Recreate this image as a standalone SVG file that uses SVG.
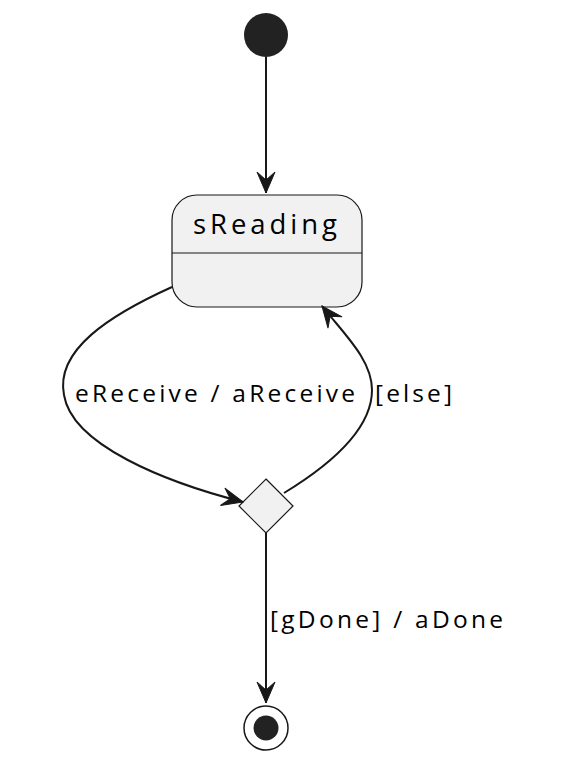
<svg xmlns="http://www.w3.org/2000/svg" width="561" height="780" viewBox="0 0 561 780">
<style>
.txt{font-family:"Open Sans","Noto Sans","Liberation Sans",sans-serif;fill:#000}
.lbl{font-size:24.5px}
.edge{fill:none;stroke:#181818;stroke-width:2}
.node{fill:#F1F1F1;stroke:#181818;stroke-width:1.2}
</style>
<defs>
<marker id="arr" markerUnits="userSpaceOnUse" markerWidth="26" markerHeight="22" viewBox="-22 -11 23 22" refX="0" refY="0" orient="auto">
<path d="M0,0 L-21,-9 L-13,0 L-21,9 Z" fill="#181818" stroke="#181818" stroke-width="1"/>
</marker>
</defs>
<rect width="561" height="780" fill="#fff"/>
<g id="start">
<circle cx="266" cy="35" r="22" fill="#222222"/>
</g>
<g id="sReading">
<rect class="node" x="172" y="195" width="190" height="112" rx="25" ry="25"/>
<line x1="172" y1="253" x2="362" y2="253" stroke="#181818" stroke-width="1.2"/>
<text class="txt" x="193" y="234" font-size="27.5" textLength="144" lengthAdjust="spacing">sReading</text>
</g>
<g id="choice">
<polygon class="node" points="266,479 293,506 266,533 239,506"/>
</g>
<g id="end">
<circle cx="266" cy="728" r="22" fill="#fff" stroke="#181818" stroke-width="1.5"/>
<circle cx="266" cy="728" r="12.5" fill="#222222"/>
</g>
<g id="connectors">
<path class="edge" d="M266,57 L266,193" marker-end="url(#arr)"/>
<path class="edge" d="M172,287 C110,315 55,350 64,395 C72,445 165,482 243,502" marker-end="url(#arr)"/>
<path class="edge" d="M284,493 C330,465 372,430 372,390 C372,360 345,335 322,306" marker-end="url(#arr)"/>
<path class="edge" d="M266,533 L266,703" marker-end="url(#arr)"/>
<text class="txt lbl" x="75" y="402" textLength="280" lengthAdjust="spacing">eReceive / aReceive</text>
<text class="txt lbl" x="375" y="402" textLength="77" lengthAdjust="spacing">[else]</text>
<text class="txt lbl" x="270" y="628" textLength="233" lengthAdjust="spacing">[gDone] / aDone</text>
</g>
</svg>
